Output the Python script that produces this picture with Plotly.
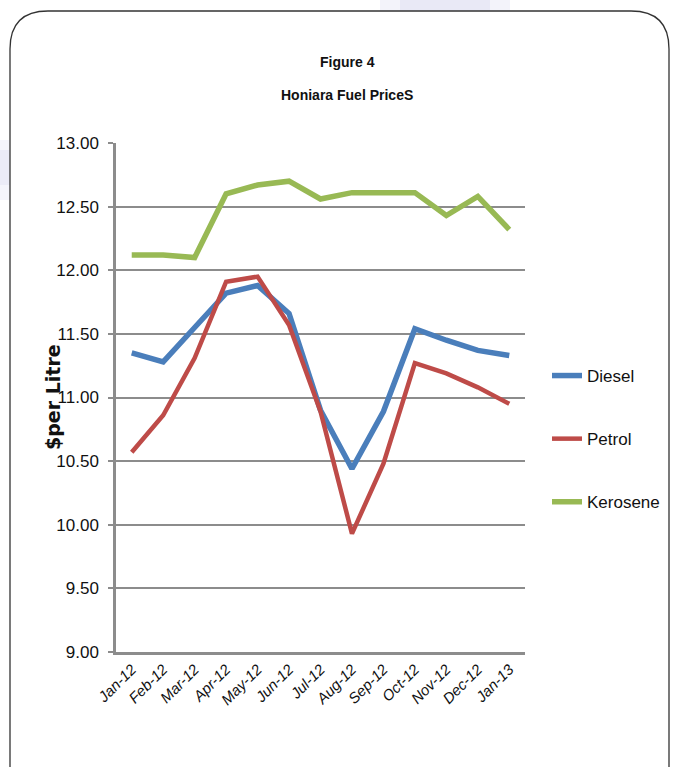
import plotly.graph_objects as go

months = ["Jan-12", "Feb-12", "Mar-12", "Apr-12", "May-12", "Jun-12", "Jul-12",
          "Aug-12", "Sep-12", "Oct-12", "Nov-12", "Dec-12", "Jan-13"]
diesel = [11.35, 11.28, 11.55, 11.82, 11.88, 11.66, 10.90, 10.44, 10.89, 11.54, 11.45, 11.37, 11.33]
petrol = [10.57, 10.86, 11.31, 11.91, 11.95, 11.57, 10.89, 9.93, 10.48, 11.27, 11.19, 11.08, 10.95]
kerosene = [12.12, 12.12, 12.10, 12.60, 12.67, 12.70, 12.56, 12.61, 12.61, 12.61, 12.43, 12.58, 12.32]
y_ticks = [9.0, 9.5, 10.0, 10.5, 11.0, 11.5, 12.0, 12.5, 13.0]

W, H = 675, 767
ML, MR, MT, MB = 116, 150, 143, 115
PW, PH = W - ML - MR, H - MT - MB

def px(x):
    return (x - ML) / PW

def py(y):
    return (H - MB - y) / PH

font = "Liberation Sans, Arial, sans-serif"

fig = go.Figure()
series = [("Diesel", diesel, "#4a7ebb", 5.5), ("Petrol", petrol, "#be4b48", 4.5),
          ("Kerosene", kerosene, "#98b954", 5.5)]
for name, vals, col, w in series:
    fig.add_trace(go.Scatter(x=months, y=vals, name=name, mode="lines",
                             line=dict(color=col, width=w), legendgroup=name))

# faint background decoration of the slide
for (a, b, c, d, op) in [(380, 510, 12, 0, 0.18), (400, 490, 12, 0, 0.18),
                         (0, 10, 200, 140, 0.15), (0, 10, 185, 150, 0.15)]:
    fig.add_shape(type="rect", xref="paper", yref="paper", x0=px(a), x1=px(b), y0=py(c), y1=py(d),
                  fillcolor=f"rgba(190,190,230,{op})", line=dict(width=0), layer="below")

# rounded outer frame
x0, x1, y0, y1, r = px(10), px(669), py(11), py(800), 38
rx, ry = r / PW, r / PH
path = (f"M {x0} {y1} L {x0} {y0 - ry} Q {x0} {y0} {x0 + rx} {y0} "
        f"L {x1 - rx} {y0} Q {x1} {y0} {x1} {y0 - ry} L {x1} {y1}")
fig.add_shape(type="path", path=path, xref="paper", yref="paper",
              fillcolor="white", line=dict(color="#333333", width=1.3), layer="below")

fig.add_annotation(text="<b>Figure 4</b>", x=px(347), y=py(52), xref="paper", yref="paper",
                   showarrow=False, font=dict(family=font, size=14, color="#111"))
fig.add_annotation(text="<b>Honiara Fuel PriceS</b>", x=px(347), y=py(85), xref="paper", yref="paper",
                   showarrow=False, font=dict(family=font, size=14, color="#111"))
fig.add_annotation(text="<b>$per Litre</b>", x=px(40), y=py(397), xref="paper", yref="paper",
                   showarrow=False, textangle=-90,
                   font=dict(family="DejaVu Sans, sans-serif", size=19, color="#111"))

fig.update_layout(
    width=W, height=H,
    margin=dict(l=ML, r=MR, t=MT, b=MB, autoexpand=False),
    paper_bgcolor="white", plot_bgcolor="white",
    showlegend=True,
    legend=dict(xref="container", yref="container", x=547 / W, y=1 - 358 / H,
                xanchor="left", yanchor="top",
                font=dict(family=font, size=17, color="#111"),
                tracegroupgap=38, traceorder="grouped",
                bgcolor="rgba(0,0,0,0)"),
    xaxis=dict(type="category", tickangle=-45, showgrid=False, showline=True,
               linecolor="#8c8c8c", linewidth=2.5, ticks="",
               tickfont=dict(family=font, size=15, color="#111", style="italic"),
               range=[-0.5, 12.5]),
    yaxis=dict(range=[9, 13], tickvals=y_ticks, tickformat=".2f",
               showgrid=True, gridcolor="#8c8c8c", gridwidth=2,
               showline=True, linecolor="#8c8c8c", linewidth=2.5,
               ticks="outside", ticklen=5, tickcolor="#8c8c8c", tickwidth=2,
               ticklabelstandoff=6, zeroline=False,
               tickfont=dict(family=font, size=17, color="#111")),
)

fig.write_html("out.html")
